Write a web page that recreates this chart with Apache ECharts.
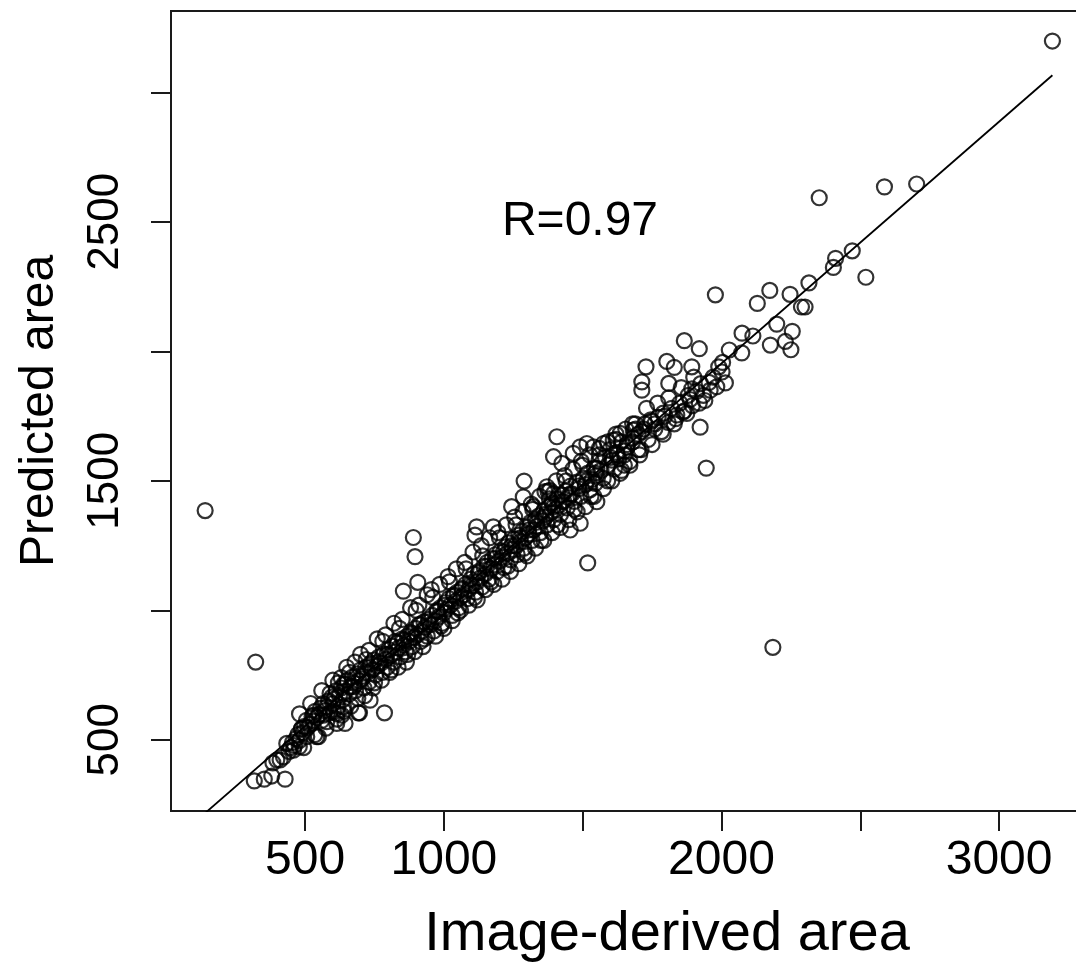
<!DOCTYPE html>
<html>
<head>
<meta charset="utf-8">
<script src="https://cdn.jsdelivr.net/npm/echarts@6/dist/echarts.min.js"></script>
<style>
html,body{margin:0;padding:0;background:#fff;overflow:hidden;}
#chart{width:1100px;height:965px;}
</style>
</head>
<body>
<div id="chart"></div>
<script>
// ---- data (Image-derived area, Predicted area) ----
const outliers = [
  [140,1385],[322,800],[2185,857],[1518,1183],[3192,3198],[2703,2646],[2587,2635],[2352,2593],
  [1978,2218],[1945,1549],[1923,1707],[786,604],[890,1281],[896,1207],[906,1108],[854,1074]
];
const lowPoints = [
  [317,341],[353,348],[380,360],[428,348],[384,411],[410,422],[479,473],[434,486],[458,460],
  [422,434],[398,422],[488,544],[542,512],[506,512],[530,595],[566,595],[578,570],[614,563],
  [644,563],[692,604],[602,608],[632,595],[638,627],[734,653],[548,512],[590,679],[696,604]
];
const bandPoints = [
  [442,455],[448,470],[455,490],[462,478],[468,505],[474,520],[480,498],[486,540],[492,528],[498,552],
  [505,575],[510,548],[518,560],[525,590],[530,572],[536,610],[542,585],[550,598],[556,622],[560,575],
  [565,640],[572,612],[578,628],[585,650],[590,605],[596,665],[600,640],[606,658],[612,690],[618,628],
  [624,672],[630,700],[636,655],[640,715],[646,688],[652,730],[658,676],[664,705],[670,742],[676,720],
  [682,690],[688,755],[694,728],[700,770],[706,745],[712,700],[718,780],[724,760],[730,722],[736,795],
  [742,770],[748,808],[754,750],[760,785],[766,820],[772,795],[778,760],[784,832],[790,810],[796,780],
  [802,848],[808,825],[814,862],[820,800],[826,840],[832,875],[838,855],[844,820],[850,890],[856,865],
  [862,840],[868,900],[874,880],[880,915],[886,860],[892,895],[898,930],[904,905],[910,945],[916,880],
  [922,920],[928,955],[934,935],[940,900],[946,965],[952,945],[958,980],[964,920],[970,960],[976,995],
  [982,975],[988,1010],[994,950],[1000,990],[1006,1030],[1012,1005],[1018,1045],[1024,1020],[1030,980],
  [1036,1055],[1042,1035],[1048,1070],[1054,1010],[1060,1050],[1066,1085],[1072,1060],[1078,1100],
  [1084,1045],[1090,1080],[1096,1120],[1102,1095],[1108,1140],[1114,1070],[1120,1110],[1126,1150],
  [1132,1125],[1138,1090],[1144,1170],[1150,1140],[1156,1185],[1162,1120],[1168,1160],[1174,1200],
  [1180,1175],[1186,1215],[1192,1150],[1198,1190],[1204,1230],[1210,1205],[1216,1165],[1222,1245],
  [1228,1220],[1234,1260],[1240,1195],[1246,1235],[1252,1275],[1258,1250],[1264,1215],[1270,1290],
  [1276,1265],[1282,1305],[1288,1240],[1294,1280],[1300,1320],[1306,1295],[1312,1340],[1318,1270],
  [1324,1310],[1330,1350],[1336,1325],[1342,1365],[1348,1300],[1354,1345],[1360,1385],[1366,1360],
  [1372,1330],[1378,1400],[1384,1375],[1390,1415],[1396,1350],[1402,1390],[1408,1430],[1414,1405],
  [1420,1370],[1426,1445],[1432,1420],[1438,1460],[1444,1395],[1450,1435],[1456,1480],[1462,1450],
  [1470,1420],[1478,1495],[1486,1470],[1494,1440],[1502,1510],[1510,1485],[1518,1530],[1526,1465],
  [1534,1505],[1542,1550],[1550,1520],[1558,1575],[1566,1540],[1574,1510],[1582,1590],[1590,1560],
  [1598,1620],[1606,1580],[1614,1545],[1622,1610],[1630,1585],[1640,1650],[1650,1600],[1660,1630],
  [1670,1575],[1680,1665],[1690,1700],[1700,1620],[1712,1690],[1724,1720],[1736,1660],[1748,1730],
  [1760,1700],[1772,1745],[1784,1690],[1796,1750],[1808,1725],[1820,1780],[1835,1740],[1850,1800],
  [1866,1770],[1880,1830],[1895,1790],[1910,1845],[1925,1875],[1940,1810],[1955,1880],[1970,1900],
  [1990,1940]
];
const widePoints = [
  [480,600],[495,470],[520,640],[535,520],[560,690],[575,545],[600,730],[615,580],[630,740],
  [650,780],[665,630],[680,800],[700,830],[715,670],[730,845],[745,700],[760,890],[775,730],
  [790,905],[805,760],[820,950],[835,780],[850,965],[865,800],[880,1010],[895,840],[910,1020],
  [925,860],[940,1060],[955,1080],[970,900],[985,1100],[1000,930],[1015,1130],[1030,960],
  [1045,1160],[1060,1000],[1075,1185],[1090,1020],[1105,1225],[1120,1040],[1135,1250],[1150,1080],
  [1165,1280],[1180,1100],[1195,1300],[1210,1120],[1225,1330],[1240,1150],[1255,1360],[1270,1180],
  [1285,1380],[1300,1210],[1315,1410],[1330,1240],[1345,1440],[1360,1270],[1375,1460],[1390,1300],
  [1405,1500],[1420,1320],[1435,1520],[1450,1350],[1465,1545],[1480,1380],[1495,1575],[1510,1400],
  [1525,1600],[1540,1440],[1560,1625],[1575,1470],[1590,1650],[1605,1500],[1620,1680],[1640,1540],
  [1655,1700],[1670,1560],[1690,1720],[1705,1600],[1730,1780],[1750,1640],[1770,1800],[1790,1680],
  [1810,1820],[1830,1720],[1855,1860],[1875,1760],[1900,1900],[1920,1800],
  [620,720],[640,610],[660,760],[690,660],[720,810],[750,720],[780,880],[810,770],[840,930],[870,830],
  [900,1000],[930,890],[960,1050],[990,940],[1020,1110],[1050,990],[1080,1160],[1110,1050],[1140,1210],
  [1170,1110],[1200,1280],[1230,1170],[1260,1330],[1290,1220],[1320,1390],[1350,1270],[1380,1430],
  [1410,1330],[1440,1500],[1470,1390],[1500,1560],[1530,1440],[1560,1600],[1590,1500],[1620,1660],
  [1650,1560],[1680,1720],[1710,1620]
];
const densePoints = [
  [615,600],[645,715],[675,705],[705,735],[735,780],[765,800],[795,830],[825,880],[855,885],[885,910],
  [915,945],[945,955],[975,1000],[1005,1020],[1035,1060],[1065,1080],[1095,1100],[1125,1145],[1155,1170],
  [1185,1200],[1215,1225],[1245,1250],[1275,1280],[1305,1310],[1335,1340],[1365,1370],[1395,1400],
  [1425,1420],[1455,1450],[1485,1480],[1515,1500],[1545,1530]
];
const midPoints = [
  [1407,1670],[1395,1593],[1425,1567],[1289,1499],[1466,1606],[1491,1631],[1515,1644],[1539,1631],
  [1575,1644],[1610,1657],[1635,1683],[1682,1696],[1551,1548],[1635,1529],[1551,1419],[1545,1490],
  [1491,1336],[1455,1310],[1371,1477],[1382,1463],[1364,1458],[1395,1451],[1286,1438],[1244,1400],
  [1322,1400],[1118,1322],[1178,1322],[1112,1290],
  [1720,1700],[1745,1735],[1760,1720],[1700,1680],[1680,1650],[1660,1640],[1650,1615],[1625,1600],[1600,1590]
];
const upperPoints = [
  [2471,2388],[2411,2359],[2403,2324],[2520,2286],[2315,2264],[2174,2235],[2247,2220],[2129,2185],
  [2288,2171],[2301,2171],[2199,2105],[2255,2077],[2230,2038],[2176,2024],[2250,2006],[2074,2070],
  [2113,2059],[2028,2005],[2073,1994],[2004,1957],[2002,1920],[2014,1878],[1866,2041],[1920,2010],
  [1803,1961],[1830,1938],[1893,1940],[1728,1940],[1810,1876],[1893,1855],[1935,1830],[1959,1850],
  [1983,1863],[1887,1814],[1713,1882],[1713,1850],[1790,1761],[1839,1754],[1862,1766]
];
const fitX = [140, 3192];
const fitY = [217, 3066];

const xTicks = [500,1000,1500,2000,2500,3000];
const xLabels = [500,1000,2000,3000];
const yTicks = [500,1000,1500,2000,2500,3000];
const yLabels = [500,1500,2500];

const allPoints = outliers.concat(lowPoints, bandPoints, widePoints, densePoints, midPoints, upperPoints);
const fitLine = fitX.map((x, i) => [x, fitY[i]]);

const chart = echarts.init(document.getElementById('chart'), null, {renderer: 'canvas'});
const FONT = '"Liberation Sans", Arial, sans-serif';
chart.setOption({
  backgroundColor: '#ffffff',
  animation: false,
  grid: {left: 171, top: 11, width: 915, height: 800, show: true,
         borderColor: '#1a1a1a', borderWidth: 2, backgroundColor: 'transparent'},
  xAxis: {
    type: 'value', min: 17, max: 3313,
    axisLine: {show: false},
    splitLine: {show: false},
    axisTick: {show: true, customValues: xTicks, length: 20, inside: false,
               lineStyle: {color: '#1a1a1a', width: 2}},
    axisLabel: {show: true, customValues: xLabels, margin: 26, color: '#000',
                fontFamily: FONT, fontSize: 48, formatter: v => String(v)}
  },
  yAxis: {
    type: 'value', min: 225, max: 3314,
    axisLine: {show: false},
    splitLine: {show: false},
    axisTick: {show: true, customValues: yTicks, length: 20, inside: false,
               lineStyle: {color: '#1a1a1a', width: 2}},
    axisLabel: {show: true, customValues: yLabels, rotate: 90, margin: 43, color: '#000',
                fontFamily: FONT, fontSize: 44, formatter: v => String(v)}
  },
  graphic: [
    {type: 'text', x: 667, y: 935, style: {text: 'Image-derived area', font: '56px ' + FONT,
      fill: '#000', textAlign: 'center', textVerticalAlign: 'middle'}},
    {type: 'text', x: 40, y: 411, rotation: Math.PI / 2, style: {text: 'Predicted area',
      font: '48px ' + FONT, fill: '#000', textAlign: 'center', textVerticalAlign: 'middle'}},
    {type: 'text', x: 580, y: 222, style: {text: 'R=0.97', font: '48px ' + FONT,
      fill: '#000', textAlign: 'center', textVerticalAlign: 'middle'}}
  ],
  series: [
    {type: 'scatter', data: allPoints, symbol: 'circle', symbolSize: 15,
     itemStyle: {color: 'rgba(0,0,0,0)', borderColor: '#000', borderWidth: 2.2}, z: 3},
    {type: 'line', data: fitLine, showSymbol: false, symbol: 'none', clip: true,
     lineStyle: {color: '#000', width: 1.8}, z: 2}
  ]
});
</script>
</body>
</html>
